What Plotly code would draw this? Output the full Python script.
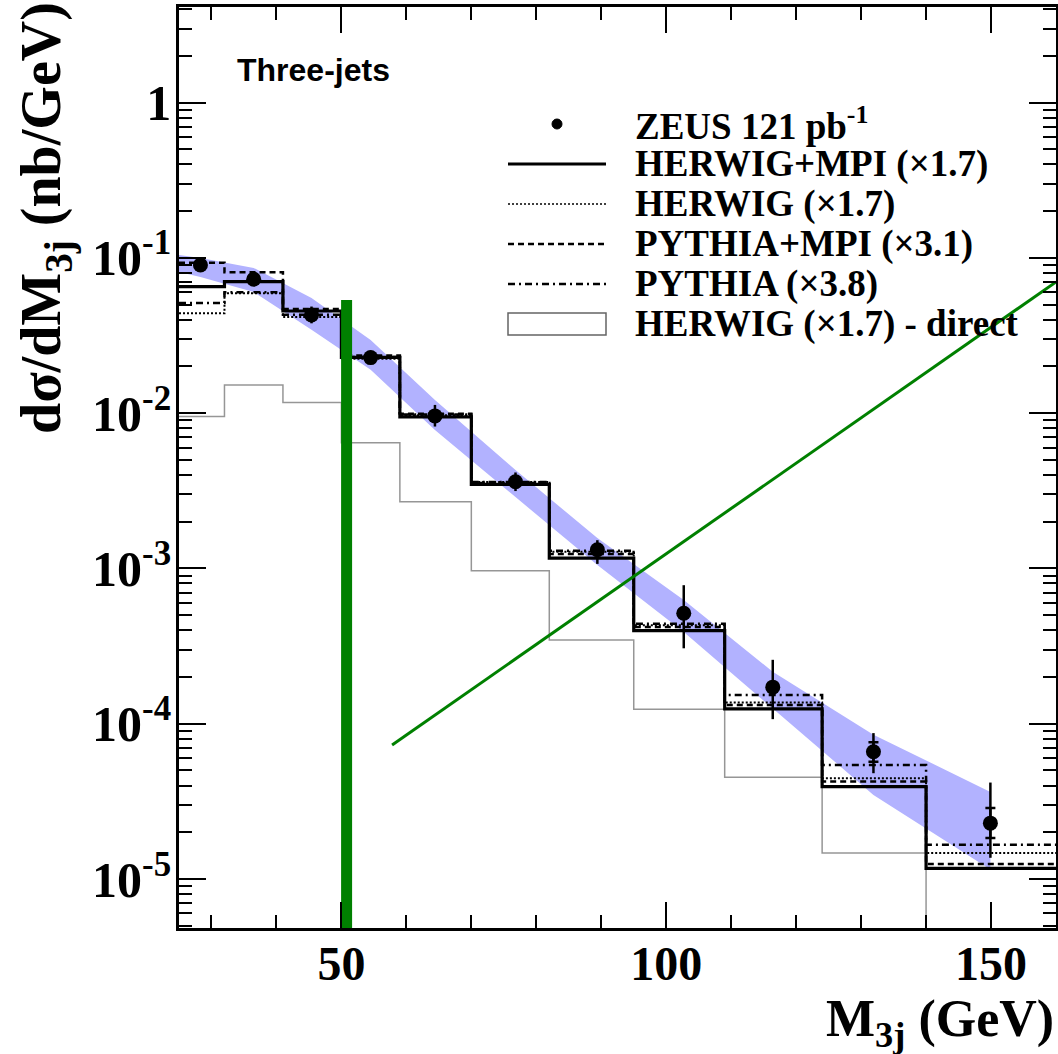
import plotly.graph_objects as go

# ---------------- data ----------------
bin_edges = [25, 32, 41, 50, 59, 70, 82, 95, 109, 124, 140, 160]

zeus_x = [28.3, 36.5, 45.4, 54.5, 64.4, 76.8, 89.4, 102.7, 116.4, 131.9, 149.9]
zeus_y = [0.090, 0.0728, 0.0429, 0.0228, 0.0096, 0.00362, 0.00132, 5.14e-4, 1.72e-4, 6.6e-5, 2.29e-5]
zeus_err_up = [0.005, 0.004, 0.0057, 0.0024, 0.0017, 0.00053, 0.0002, 2.66e-4, 8.6e-5, 2.1e-5, 1.89e-5]
zeus_err_dn = [0.005, 0.004, 0.005, 0.0021, 0.0014, 0.00047, 0.00025, 2.08e-4, 6.5e-5, 1.8e-5, 0.92e-5]
zeus_stat_up = [0, 0, 0, 0, 0, 0, 0, 0, 0, 1.0e-5, 5.8e-6]
zeus_stat_dn = [0, 0, 0, 0, 0, 0, 0, 0, 0, 0.9e-5, 4.5e-6]

herwig_mpi = [0.0653, 0.0703, 0.0455, 0.0229, 0.00946, 0.00348, 0.001164, 3.98e-4, 1.245e-4, 3.94e-5, 1.17e-5]
herwig = [0.044, 0.0592, 0.0416, 0.0224, 0.0097, 0.0036, 0.00128, 4.3e-4, 1.37e-4, 4.45e-5, 1.47e-5]
pythia_mpi = [0.093, 0.0808, 0.0469, 0.0235, 0.0099, 0.00355, 0.00124, 4.2e-4, 1.32e-4, 4.24e-5, 1.25e-5]
pythia = [0.0513, 0.0600, 0.0430, 0.0230, 0.0098, 0.0036, 0.0013, 4.4e-4, 1.53e-4, 5.43e-5, 1.66e-5]
herwig_direct = [0.0095, 0.0152, 0.0117, 0.00646, 0.00269, 9.68e-4, 3.46e-4, 1.24e-4, 4.52e-5, 1.47e-5, 1e-6]

band_x = [25, 28.3, 36.5, 45.4, 54.5, 64.4, 76.8, 89.4, 102.7, 116.4, 131.9, 149.9]
band_up = [0.1045, 0.0998, 0.0861, 0.0552, 0.0296, 0.01216, 0.0043, 0.00157, 6.27e-4, 2.16e-4, 8.5e-5, 3.64e-5]
band_lo = [0.0811, 0.0753, 0.0603, 0.0344, 0.0190, 0.0078, 0.00288, 0.001054, 3.9e-4, 1.26e-4, 3.48e-5, 1.15e-5]

green_vline_x = [50.8, 50.8]
green_vline_y = [0.0536, 4.0e-6]
green_diag_x = [57.8, 160.0]
green_diag_y = [7.3e-5, 0.070]

x_tickvals = [50, 100, 150]
x_ticktext = ["50", "100", "150"]
x_minor = [30, 40, 60, 70, 80, 90, 110, 120, 130, 140, 160]
y_tickvals = [1e-5, 1e-4, 1e-3, 1e-2, 1e-1, 1]
y_ticktext = ["10<sup>-5</sup>", "10<sup>-4</sup>", "10<sup>-3</sup>", "10<sup>-2</sup>", "10<sup>-1</sup>", "1"]

legend_labels = ["ZEUS 121 pb<sup>-1</sup>", "HERWIG+MPI (\u00d71.7)", "HERWIG (\u00d71.7)",
                 "PYTHIA+MPI (\u00d73.1)", "PYTHIA (\u00d73.8)", "HERWIG (\u00d71.7) - direct"]

# ---------------- figure ----------------
W, H = 1058, 1054
ML, MR, MT, MB = 179, 2, 7, 126
PW, PH = W - ML - MR, H - MT - MB

SERIF = "Liberation Serif"

def step_xy(vals):
    return bin_edges, list(vals) + [vals[-1]]

fig = go.Figure()

# band
fig.add_trace(go.Scatter(x=band_x, y=band_up, mode="lines", line=dict(width=0),
                         showlegend=False, hoverinfo="skip"))
fig.add_trace(go.Scatter(x=band_x, y=band_lo, mode="lines", line=dict(width=0),
                         fill="tonexty", fillcolor="rgb(178,178,255)", showlegend=False, hoverinfo="skip"))

hist_styles = [
    (herwig_direct, dict(color="rgb(150,150,150)", width=1.5)),
    (pythia, dict(color="black", width=2.5, dash="7px,4px,2px,4px")),
    (pythia_mpi, dict(color="black", width=2.5, dash="6px,4px")),
    (herwig, dict(color="black", width=2, dash="2px,2px")),
    (herwig_mpi, dict(color="black", width=3.2)),
]
for vals, ls in hist_styles:
    hx, hy = step_xy(vals)
    ls = dict(ls, shape="hv")
    fig.add_trace(go.Scatter(x=hx, y=hy, mode="lines", line=ls, showlegend=False, hoverinfo="skip"))

# data: total errors
fig.add_trace(go.Scatter(x=zeus_x, y=zeus_y, mode="markers",
                         marker=dict(color="black", size=15),
                         error_y=dict(type="data", symmetric=False, array=zeus_err_up,
                                      arrayminus=zeus_err_dn, color="black", thickness=2.5, width=0),
                         showlegend=False))
# data: stat errors (inner ticks)
fig.add_trace(go.Scatter(x=zeus_x, y=zeus_y, mode="markers",
                         marker=dict(color="black", size=1, opacity=0),
                         error_y=dict(type="data", symmetric=False, array=zeus_stat_up,
                                      arrayminus=zeus_stat_dn, color="black", thickness=2.5, width=5),
                         showlegend=False, hoverinfo="skip"))

# green overlay lines
fig.add_trace(go.Scatter(x=green_vline_x, y=green_vline_y, mode="lines",
                         line=dict(color="rgb(0,128,0)", width=11), showlegend=False, hoverinfo="skip"))
fig.add_trace(go.Scatter(x=green_diag_x, y=green_diag_y, mode="lines",
                         line=dict(color="rgb(0,128,0)", width=3), showlegend=False, hoverinfo="skip"))

# ---------------- axes ----------------
minor_y = [m * 10 ** k for k in range(-6, 1) for m in range(2, 10)]

fig.update_xaxes(range=[25, 160], showline=True, linecolor="black", linewidth=2.5, mirror="allticks",
                 ticks="inside", ticklen=26, tickwidth=2, tickcolor="black",
                 tickmode="array", tickvals=x_tickvals, ticktext=x_ticktext,
                 tickfont=dict(family=SERIF, size=48, color="black", weight="bold"),
                 ticklabelstandoff=-8,
                 minor=dict(tickmode="array", tickvals=x_minor, ticks="inside", ticklen=13,
                            tickwidth=2, tickcolor="black", showgrid=False),
                 showgrid=False, zeroline=False, automargin=False)
fig.update_yaxes(type="log", range=[-5.3155, 0.6156], showline=True, linecolor="black", linewidth=2.5,
                 mirror="allticks", ticks="inside", ticklen=27, tickwidth=2, tickcolor="black",
                 tickmode="array", tickvals=y_tickvals, ticktext=y_ticktext,
                 tickfont=dict(family=SERIF, size=50, color="black", weight="bold"),
                 ticklabelstandoff=-5,
                 minor=dict(tickmode="array", tickvals=minor_y, ticks="inside", ticklen=13,
                            tickwidth=2, tickcolor="black", showgrid=False),
                 showgrid=False, zeroline=False, automargin=False)

# ---------------- legend (manual) ----------------
def px_x(px):
    return (px - ML) / PW

def px_y(py):
    return (H - MB - py) / PH

leg_rows = [124, 164, 204, 244, 284, 324]
sym_x0, sym_x1, txt_x = 508, 606, 633
shapes = []
annotations = []
for lab, row in zip(legend_labels, leg_rows):
    annotations.append(dict(xref="paper", yref="paper", x=px_x(txt_x), y=px_y(row), xanchor="left",
                            yanchor="middle", text="<b>" + lab + "</b>", showarrow=False,
                            font=dict(family=SERIF, size=37, color="black")))
# dot
cx = (sym_x0 + sym_x1) / 2
shapes.append(dict(type="circle", xref="paper", yref="paper", x0=px_x(cx - 5), x1=px_x(cx + 5),
                   y0=px_y(leg_rows[0] + 5), y1=px_y(leg_rows[0] - 5), fillcolor="black",
                   line=dict(color="black", width=1)))
leg_line_styles = [dict(color="black", width=3.2), dict(color="black", width=1.5, dash="2px,2px"),
                   dict(color="black", width=2.5, dash="6px,4px"),
                   dict(color="black", width=2.5, dash="7px,4px,2px,4px")]
for ls, row in zip(leg_line_styles, leg_rows[1:5]):
    shapes.append(dict(type="line", xref="paper", yref="paper", x0=px_x(sym_x0), x1=px_x(sym_x1),
                       y0=px_y(row), y1=px_y(row), line=ls))
shapes.append(dict(type="rect", xref="paper", yref="paper", x0=px_x(sym_x0), x1=px_x(sym_x1),
                   y0=px_y(leg_rows[5] + 11), y1=px_y(leg_rows[5] - 11),
                   line=dict(color="rgb(100,100,100)", width=1.5), fillcolor="white"))

# labels
annotations.append(dict(xref="paper", yref="paper", x=px_x(235), y=px_y(70), xanchor="left", yanchor="middle",
                        text="<b>Three-jets</b>", showarrow=False,
                        font=dict(family="Liberation Sans", size=32, color="black")))
annotations.append(dict(xref="paper", yref="paper", x=px_x(45), y=px_y(0), xanchor="center", yanchor="top",
                        text="<b>d\u03c3/dM<sub>3j</sub> (nb/GeV)</b>", textangle=-90, showarrow=False,
                        font=dict(family=SERIF, size=56, color="black")))
annotations.append(dict(xref="paper", yref="paper", x=px_x(1056), y=px_y(988), xanchor="right", yanchor="top",
                        text="<b>M<sub>3j</sub> (GeV)</b>", showarrow=False,
                        font=dict(family=SERIF, size=52, color="black")))

fig.update_layout(width=W, height=H, margin=dict(l=ML, r=MR, t=MT, b=MB, autoexpand=False),
                  plot_bgcolor="white", paper_bgcolor="white",
                  shapes=shapes, annotations=annotations, showlegend=False)

fig.write_html("out.html", config={"displayModeBar": False},
               post_script="document.body.style.margin='0px';")
